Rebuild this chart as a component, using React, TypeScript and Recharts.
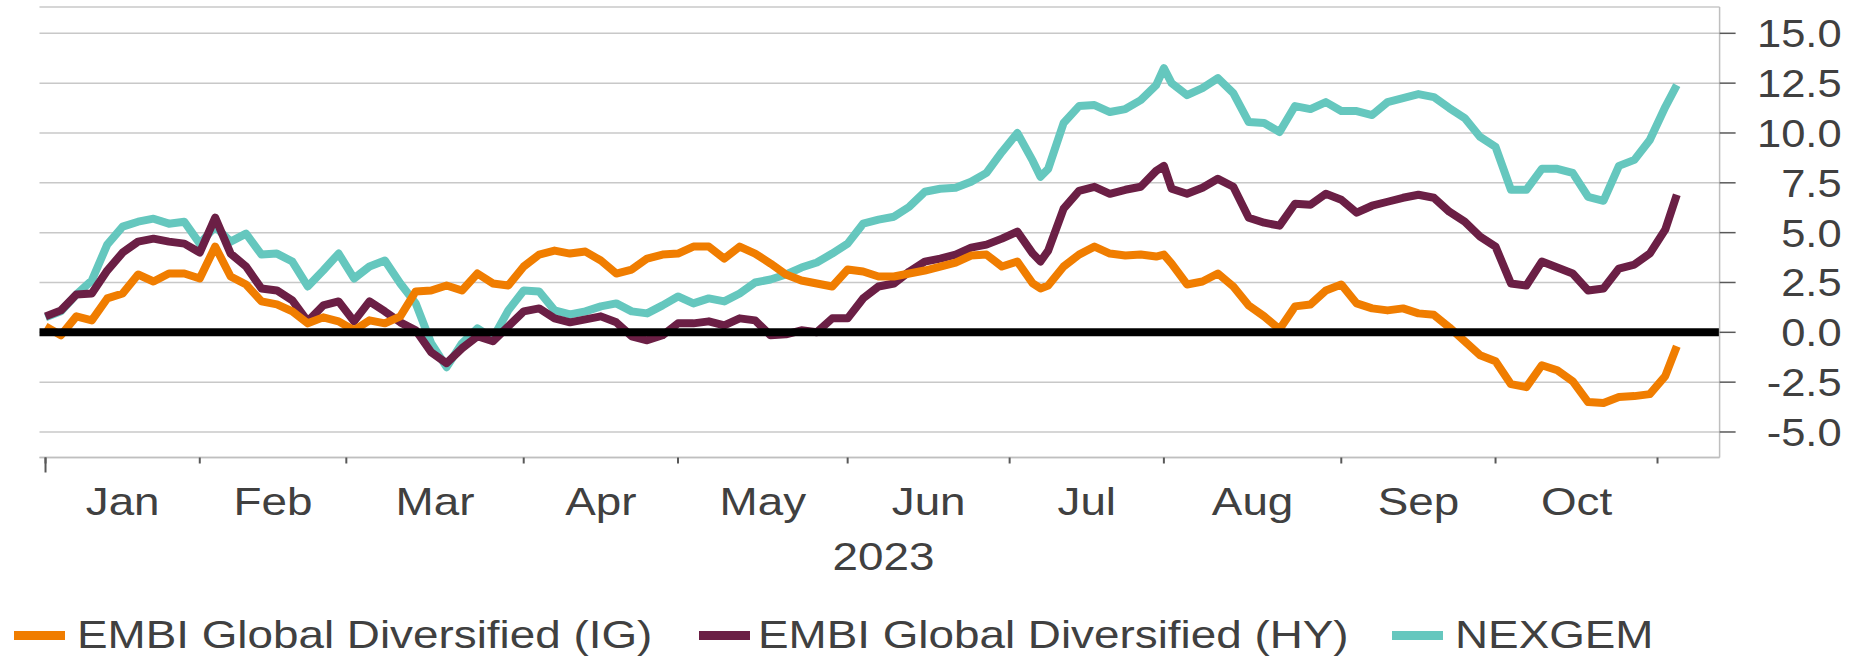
import React from "react";
import {
  LineChart,
  Line,
  XAxis,
  YAxis,
  CartesianGrid,
  ReferenceLine,
  Legend,
} from "recharts";

const W = 1857;
const H = 657;
const FONT = "'Liberation Sans', Arial, sans-serif";
const TEXT = "#404040";
const SX = 1.16; // the source text is drawn a little wide
const LINE_W = 8;

// trading-day index (bond market calendar, Jan 3 2023 = 0)
const days = [
  0, 2, 4, 6, 8, 10, 12, 14, 16, 18, 20, 22, 24, 26, 28, 30, 32, 34, 36, 38,
  40, 42, 44, 46, 48, 50, 52, 54, 56, 58, 60, 62, 64, 66, 68, 70, 72, 74, 76,
  78, 80, 82, 84, 86, 88, 90, 92, 94, 96, 98, 100, 102, 104, 106, 108, 110,
  112, 114, 116, 118, 120, 122, 124, 126, 128, 129, 130, 132, 134, 136, 138,
  140, 142, 144, 145, 146, 148, 150, 152, 154, 156, 158, 160, 162, 164, 166,
  168, 170, 172, 174, 176, 178, 180, 182, 184, 186, 188, 190, 192, 194, 196,
  198, 200, 202, 204, 206, 208, 210, 211.5,
];

const ig = [
  0.3, -0.15, 0.8, 0.6, 1.7, 1.95, 2.9, 2.55, 2.95, 2.95, 2.7, 4.3, 2.8, 2.4,
  1.55, 1.4, 1.05, 0.45, 0.75, 0.55, 0.1, 0.6, 0.45, 0.8, 2.05, 2.1, 2.35, 2.1,
  2.95, 2.45, 2.35, 3.3, 3.9, 4.1, 3.95, 4.05, 3.6, 2.95, 3.15, 3.7, 3.9, 3.95,
  4.3, 4.3, 3.7, 4.3, 3.95, 3.45, 2.9, 2.6, 2.45, 2.3, 3.15, 3.05, 2.8, 2.8,
  2.95, 3.1, 3.3, 3.5, 3.85, 3.9, 3.3, 3.55, 2.45, 2.2, 2.35, 3.3, 3.9, 4.3,
  3.95, 3.85, 3.9, 3.8, 3.9, 3.45, 2.4, 2.55, 2.95, 2.3, 1.35, 0.8, 0.15, 1.3,
  1.4, 2.1, 2.4, 1.45, 1.2, 1.1, 1.2, 0.95, 0.88, 0.25, -0.45, -1.15, -1.45,
  -2.6, -2.75, -1.65, -1.9, -2.45, -3.5, -3.55, -3.25, -3.2, -3.1, -2.2, -0.7,
];

const hy = [
  0.8, 1.1, 1.9, 1.95, 3.1, 4.0, 4.55, 4.7, 4.55, 4.45, 4.0, 5.75, 3.95, 3.3,
  2.2, 2.1, 1.6, 0.55, 1.35, 1.55, 0.55, 1.55, 1.05, 0.5, 0.1, -1.0, -1.55,
  -0.8, -0.2, -0.45, 0.3, 1.05, 1.2, 0.7, 0.5, 0.65, 0.8, 0.5, -0.2, -0.4,
  -0.15, 0.45, 0.45, 0.55, 0.35, 0.7, 0.6, -0.15, -0.1, 0.1, 0.0, 0.7, 0.7,
  1.7, 2.3, 2.45, 3.05, 3.55, 3.7, 3.9, 4.25, 4.4, 4.7, 5.05, 3.95, 3.55, 4.1,
  6.2, 7.1, 7.3, 6.95, 7.15, 7.3, 8.1, 8.35, 7.2, 6.95, 7.25, 7.7, 7.3, 5.75,
  5.5, 5.35, 6.45, 6.4, 6.95, 6.65, 6.0, 6.35, 6.55, 6.75, 6.9, 6.75, 6.05,
  5.55, 4.8, 4.3, 2.45, 2.35, 3.55, 3.25, 2.95, 2.1, 2.2, 3.2, 3.4, 3.95, 5.15,
  6.9,
];

const nexgem = [
  0.75, 1.05, 1.9, 2.6, 4.4, 5.3, 5.55, 5.7, 5.45, 5.55, 4.45, 5.3, 4.55, 4.95,
  3.9, 3.95, 3.55, 2.3, 3.1, 3.95, 2.7, 3.3, 3.6, 2.45, 1.45, -0.55, -1.75,
  -0.55, 0.2, -0.3, 1.1, 2.1, 2.05, 1.1, 0.9, 1.05, 1.3, 1.45, 1.05, 0.95,
  1.35, 1.8, 1.45, 1.7, 1.55, 1.95, 2.5, 2.65, 2.9, 3.25, 3.5, 3.95, 4.45,
  5.45, 5.65, 5.8, 6.3, 7.05, 7.2, 7.25, 7.55, 8.0, 9.05, 10.0, 8.6, 7.8, 8.2,
  10.5, 11.35, 11.4, 11.05, 11.2, 11.65, 12.4, 13.25, 12.5, 11.9, 12.25, 12.75,
  12.0, 10.55, 10.5, 10.05, 11.35, 11.2, 11.55, 11.1, 11.1, 10.9, 11.55, 11.75,
  11.95, 11.8, 11.25, 10.75, 9.8, 9.3, 7.15, 7.15, 8.2, 8.2, 8.0, 6.8, 6.6,
  8.35, 8.65, 9.65, 11.3, 12.4,
];

const monthNames = ["Jan", "Feb", "Mar", "Apr", "May", "Jun", "Jul", "Aug", "Sep", "Oct"];
const monthStarts = [0, 20, 39, 62, 82, 104, 125, 145, 168, 188, 209];
const yTicks = [-5, -2.5, 0, 2.5, 5, 7.5, 10, 12.5, 15];
const yearLabel = "2023";

const series = [
  { key: "ig", name: "EMBI Global Diversified (IG)", color: "#F07D00" },
  { key: "hy", name: "EMBI Global Diversified (HY)", color: "#6B1F45" },
  { key: "nexgem", name: "NEXGEM", color: "#65C7BE" },
];

const data = days.map((day, i) => ({
  day,
  ig: ig[i],
  hy: hy[i],
  nexgem: nexgem[i],
}));

const monthMids = monthNames.map((_, i) => (monthStarts[i] + monthStarts[i + 1]) / 2);

const YTick = (props: any) => {
  const { x, y, payload } = props;
  return (
    <text
      transform={`translate(${x + 106},${y + 14}) scale(1.1,1)`}
      textAnchor="end"
      fill={TEXT}
      fontSize={39.5}
      fontFamily={FONT}
    >
      {payload.value.toFixed(1)}
    </text>
  );
};

const BoundaryTick = (props: any) => {
  const { x, y, payload } = props;
  // the first boundary carries the year level, so it runs longer
  if (payload.value !== monthStarts[0]) return <g />;
  return <line x1={x} x2={x} y1={y - 6} y2={y + 9} stroke="#595959" strokeWidth={2} />;
};

const MonthTick = (props: any) => {
  const { x, y, index } = props;
  return (
    <text
      transform={`translate(${x},${y + 37}) scale(${SX},1)`}
      textAnchor="middle"
      fill={TEXT}
      fontSize={39.5}
      fontFamily={FONT}
    >
      {monthNames[index]}
    </text>
  );
};

const YearLabel = (props: any) => {
  const vb = props.viewBox || { x: 0, y: 0, width: 0 };
  return (
    <text
      transform={`translate(${vb.x + vb.width / 2 + 4},${vb.y + 92.5}) scale(${SX},1)`}
      textAnchor="middle"
      fill={TEXT}
      fontSize={39.5}
      fontFamily={FONT}
    >
      {yearLabel}
    </text>
  );
};

// legend item positions as laid out in the source
const legendSwatchX = [14, 699, 1392];
const legendTextX = [77, 758, 1455];

const renderLegend = () => (
  <svg width={W} height={45}>
    {series.map((s, i) => (
      <g key={s.key}>
        <rect x={legendSwatchX[i]} y={19} width={51} height={9} fill={s.color} />
        <text
          transform={`translate(${legendTextX[i]},36.3) scale(${SX},1)`}
          fill={TEXT}
          fontSize={39.5}
          fontFamily={FONT}
        >
          {s.name}
        </text>
      </g>
    ))}
  </svg>
);

export default function App() {
  return (
    <div style={{ position: "absolute", left: 0, top: 0, width: W, height: H, background: "#fff" }}>
      <LineChart
        width={W}
        height={H}
        data={data}
        margin={{ top: 7, right: 0, bottom: 59.5, left: 39.5 }}
      >
        <CartesianGrid vertical={false} stroke="#C8C8C8" strokeWidth={1.5} />
        <XAxis
          xAxisId="bounds"
          dataKey="day"
          type="number"
          domain={[-0.78, 217.05]}
          ticks={monthStarts}
          interval={0}
          height={20}
          tickSize={6}
          tickMargin={0}
          axisLine={{ stroke: "#BFBFBF", strokeWidth: 1.5 }}
          tickLine={{ stroke: "#595959", strokeWidth: 2 }}
          tick={<BoundaryTick />}
        />
        <XAxis
          xAxisId="months"
          dataKey="day"
          type="number"
          domain={[-0.78, 217.05]}
          ticks={monthMids}
          interval={0}
          height={120}
          tickSize={0}
          tickMargin={0}
          axisLine={false}
          tickLine={false}
          tick={<MonthTick />}
          label={<YearLabel />}
        />
        <YAxis
          orientation="right"
          width={137.4}
          type="number"
          domain={[-6.28, 16.32]}
          ticks={yTicks}
          interval={0}
          tickSize={16}
          tickMargin={0}
          axisLine={{ stroke: "#BFBFBF", strokeWidth: 1.5 }}
          tickLine={{ stroke: "#595959", strokeWidth: 1.5 }}
          tick={<YTick />}
        />
        {[...series].reverse().map((s) => (
          <Line
            key={s.key}
            xAxisId="bounds"
            type="linear"
            dataKey={s.key}
            name={s.name}
            stroke={s.color}
            strokeWidth={LINE_W}
            style={{ strokeWidth: LINE_W }}
            strokeLinejoin="round"
            dot={false}
            activeDot={false}
            isAnimationActive={false}
          />
        ))}
        <ReferenceLine xAxisId="bounds" y={0} stroke="#000" strokeWidth={8} />
        <Legend
          layout="vertical"
          verticalAlign="middle"
          align="center"
          content={renderLegend}
          wrapperStyle={{ left: 0, top: 612, width: W, height: 45 }}
        />
      </LineChart>
    </div>
  );
}
